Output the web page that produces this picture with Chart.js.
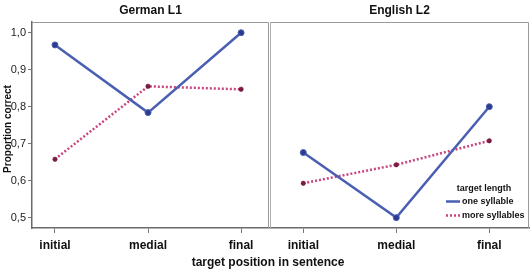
<!DOCTYPE html>
<html><head><meta charset="utf-8">
<script src="https://cdn.jsdelivr.net/npm/chart.js@4/dist/chart.umd.min.js"></script>
<style>
html,body{margin:0;padding:0;background:#fff;}
#wrap{position:relative;width:532px;height:270px;overflow:hidden;}
#c1{position:absolute;left:0;top:0;}
#c2{position:absolute;left:270px;top:0;}
#xt{position:absolute;left:0;width:536px;top:255px;text-align:center;font:bold 12px "Liberation Sans",Arial,sans-serif;color:#111;}
</style></head>
<body><div id="wrap">
<canvas id="c1" width="270" height="270"></canvas>
<canvas id="c2" width="262" height="270"></canvas>
<div id="xt">target position in sentence</div>
</div>
<script>
const categories = ["initial", "medial", "final"];
const panels = ["German L1", "English L2"];
const seriesNames = ["one syllable", "more syllables"];
const legendTitle = "target length";
const yTitle = "Proportion correct";
const yTicks = [0.5, 0.6, 0.7, 0.8, 0.9, 1.0];
const germanOne = [0.967, 0.784, 1.0];
const germanMore = [0.658, 0.855, 0.847];
const englishOne = [0.676, 0.500, 0.800];
const englishMore = [0.593, 0.643, 0.708];

const FONT = '"Liberation Sans", Arial, sans-serif';
const BLUE = '#4a5fb2', BLUE_PT = '#2b3b8e';
const PINK = '#c8457f', PINK_PT = '#7a1d45';

function pts(vals){ return vals.map((v,i)=>({x:i,y:v})); }

function datasets(one, more){
  return [
    {label: seriesNames[0], data: pts(one), borderColor: BLUE, borderWidth: 2.5,
     pointRadius: 3, pointBackgroundColor: BLUE_PT, pointBorderColor: BLUE, pointBorderWidth: 1, tension: 0},
    {label: seriesNames[1], data: pts(more), borderColor: PINK, borderWidth: 2.5, borderDash: [2,2],
     pointRadius: 2.5, pointStyle: 'star', pointBackgroundColor: PINK_PT, pointBorderColor: PINK_PT, pointBorderWidth: 1.5, tension: 0}
  ];
}

const framePlugin = {
  id: 'frame',
  afterDraw(chart, args, opts){
    const ctx = chart.ctx, a = chart.chartArea;
    ctx.save();
    ctx.fillStyle = '#111';
    ctx.font = 'bold 12px ' + FONT;
    ctx.textAlign = 'center'; ctx.textBaseline = 'middle';
    ctx.fillText(opts.title, (a.left + a.right)/2, 11);
    ctx.strokeStyle = '#9a9a9a'; ctx.lineWidth = 1;
    ctx.beginPath();
    ctx.moveTo(a.left, a.top + 0.5); ctx.lineTo(a.right - 0.5, a.top + 0.5); ctx.lineTo(a.right - 0.5, a.bottom);
    ctx.stroke();
    if (opts.leftLine) {
      ctx.strokeStyle = '#b0b0b0';
      ctx.beginPath(); ctx.moveTo(a.left + 0.5, a.top); ctx.lineTo(a.left + 0.5, a.bottom); ctx.stroke();
    }
    if (opts.yTitle) {
      ctx.translate(8, 129); ctx.rotate(-Math.PI/2);
      ctx.font = 'bold 10px ' + FONT; ctx.fillStyle = '#111';
      ctx.fillText(opts.yTitle, 0, 0);
      ctx.setTransform(1,0,0,1,0,0);
    }
    if (opts.legend) {
      ctx.font = 'bold 9px ' + FONT; ctx.fillStyle = '#111';
      ctx.textAlign = 'center';
      ctx.fillText(legendTitle, 484 - 270, 189);
      ctx.textAlign = 'left';
      const rows = [[201.5, BLUE, []], [215.5, PINK, [2,2]]];
      rows.forEach((r, i) => {
        ctx.strokeStyle = r[1]; ctx.lineWidth = 2.5; ctx.setLineDash(r[2]);
        ctx.beginPath(); ctx.moveTo(446 - 270, r[0]); ctx.lineTo(460 - 270, r[0]); ctx.stroke();
        ctx.setLineDash([]);
        ctx.fillText(seriesNames[i], 462 - 270, r[0]);
      });
    }
    ctx.restore();
  }
};

function makeChart(id, one, more, opts){
  return new Chart(document.getElementById(id), {
    type: 'line',
    data: { datasets: datasets(one, more) },
    plugins: [framePlugin],
    options: {
      responsive: false, animation: false, devicePixelRatio: 1,
      layout: { autoPadding: false, padding: { top: 22, right: opts.padRight, left: 0, bottom: 0 } },
      plugins: { legend: { display: false }, tooltip: { enabled: false }, title: { display: false },
        frame: { title: opts.title, leftLine: opts.leftLine, yTitle: opts.yTitle, legend: opts.legend } },
      scales: {
        x: {
          type: 'linear', min: opts.xmin, max: opts.xmax,
          afterBuildTicks: s => { s.ticks = categories.map((c,i)=>({value:i})); },
          afterFit: s => { s.height = 42; s.paddingLeft = 0; s.paddingRight = 0; },
          ticks: { callback: v => categories[v], font: { family: FONT, size: 12, weight: 'bold' }, color: '#111', padding: 5, maxRotation: 0, autoSkip: false },
          grid: { drawOnChartArea: false, drawTicks: true, tickLength: 5, color: '#777', lineWidth: 1 },
          border: { display: true, color: '#6a6a6a', width: 1.5 }
        },
        y: {
          type: 'linear', min: 0.472, max: 1.029, display: opts.yDisplay,
          afterBuildTicks: s => { s.ticks = yTicks.map(v=>({value:v})); },
          afterFit: s => { s.width = opts.yDisplay ? 32 : 0; s.paddingTop = 0; s.paddingBottom = 0; },
          ticks: { callback: v => v.toFixed(1).replace('.', ','), font: { family: FONT, size: 11 }, color: '#222', padding: 2 },
          grid: { drawOnChartArea: false, drawTicks: true, tickLength: 4, color: '#777', lineWidth: 1 },
          border: { display: true, color: '#6a6a6a', width: 1.5 }
        }
      }
    }
  });
}

makeChart('c1', germanOne, germanMore, { title: panels[0], padRight: 1, xmin: -0.247, xmax: 2.3, yDisplay: true, yTitle: yTitle, leftLine: false, legend: false });
makeChart('c2', englishOne, englishMore, { title: panels[1], padRight: 3, xmin: -0.358, xmax: 2.427, yDisplay: false, leftLine: true, legend: true });
</script>
</body></html>
